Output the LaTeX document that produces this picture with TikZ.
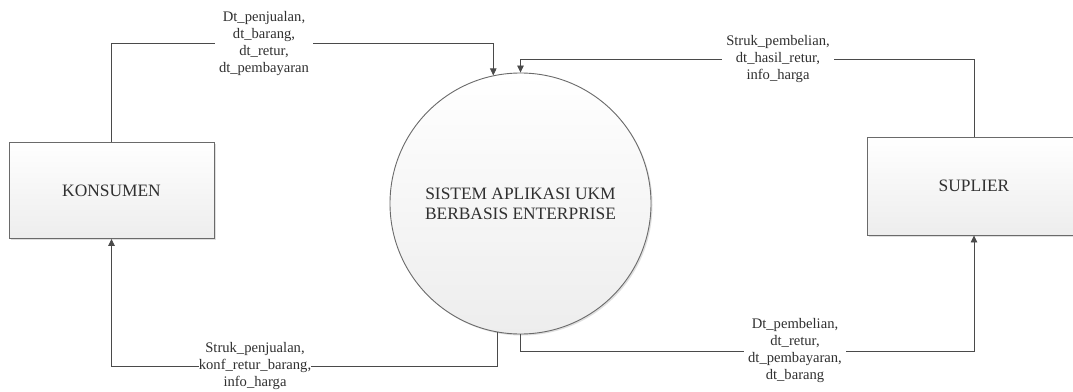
\documentclass[tikz,border=0pt]{standalone}
\usepackage{fontspec}
\setmainfont{Liberation Serif}
\usetikzlibrary{arrows.meta,shadows}
\definecolor{dfdline}{HTML}{4A4A4A}
\definecolor{dfdedge}{HTML}{6A6A6A}
\definecolor{dfdtext}{HTML}{303030}

\begin{document}
\begin{tikzpicture}[x=1pt,y=-1pt,
  font=\fontsize{14.6}{17}\selectfont,
  entity/.style={rectangle,draw=dfdedge,line width=0.9pt,top color=white,bottom color=black!7,
    minimum width=205pt,minimum height=96pt,text=dfdtext,font=\fontsize{17.4}{20}\selectfont,
    drop shadow={shadow xshift=1.5pt,shadow yshift=-1.5pt,opacity=0.25}},
  process/.style={circle,draw=dfdedge,line width=0.9pt,top color=white,bottom color=black!7,
    minimum size=261pt,align=center,text=dfdtext,font=\fontsize{17.4}{20}\selectfont,
    drop shadow={shadow xshift=1.5pt,shadow yshift=-1.5pt,opacity=0.25}},
  flow/.style={draw=dfdline,line width=0.8pt,-{Triangle[length=7pt,width=6.5pt]}},
  flowlabel/.style={fill=white,align=center,text=dfdtext,inner xsep=4pt,inner ysep=0pt},
]
\useasboundingbox[fill=white] (0,0) rectangle (1073,391);

% external entities and the process
\node[entity] (konsumen) at (111.5,190.5) {KONSUMEN};
\node[entity,minimum width=214pt,minimum height=98pt] (suplier) at (974,186) {SUPLIER};
\node[process] (sistem) at (520.5,203.5) {SISTEM APLIKASI UKM\\BERBASIS ENTERPRISE};

% rows of the data flows
\coordinate (inrow) at (0,43);
\coordinate (suprow) at (0,59);
\coordinate (buyrow) at (0,351);
\coordinate (outrow) at (0,366);

\draw[flow] (konsumen.north) -- (konsumen.north |- inrow) -| (sistem.102);
\draw[flow] (suplier.north) -- (suplier.north |- suprow) -| (sistem.north);
\draw[flow] (sistem.-100) -- (sistem.-100 |- outrow) -| (konsumen.south);
\draw[flow] (sistem.south) -- (sistem.south |- buyrow) -| (suplier.south);

\node[flowlabel] (lblin) at (264,44) {Dt\_penjualan,\\dt\_barang,\\dt\_retur,\\dt\_pembayaran};
\node[flowlabel] (lblsup) at (778,59) {Struk\_pembelian,\\dt\_hasil\_retur,\\info\_harga};
\node[flowlabel,inner xsep=0pt] (lblout) at (255,366) {Struk\_penjualan,\\konf\_retur\_barang,\\info\_harga};
\node[flowlabel] (lblbuy) at (795,351) {Dt\_pembelian,\\dt\_retur,\\dt\_pembayaran,\\dt\_barang};
\end{tikzpicture}
\end{document}
